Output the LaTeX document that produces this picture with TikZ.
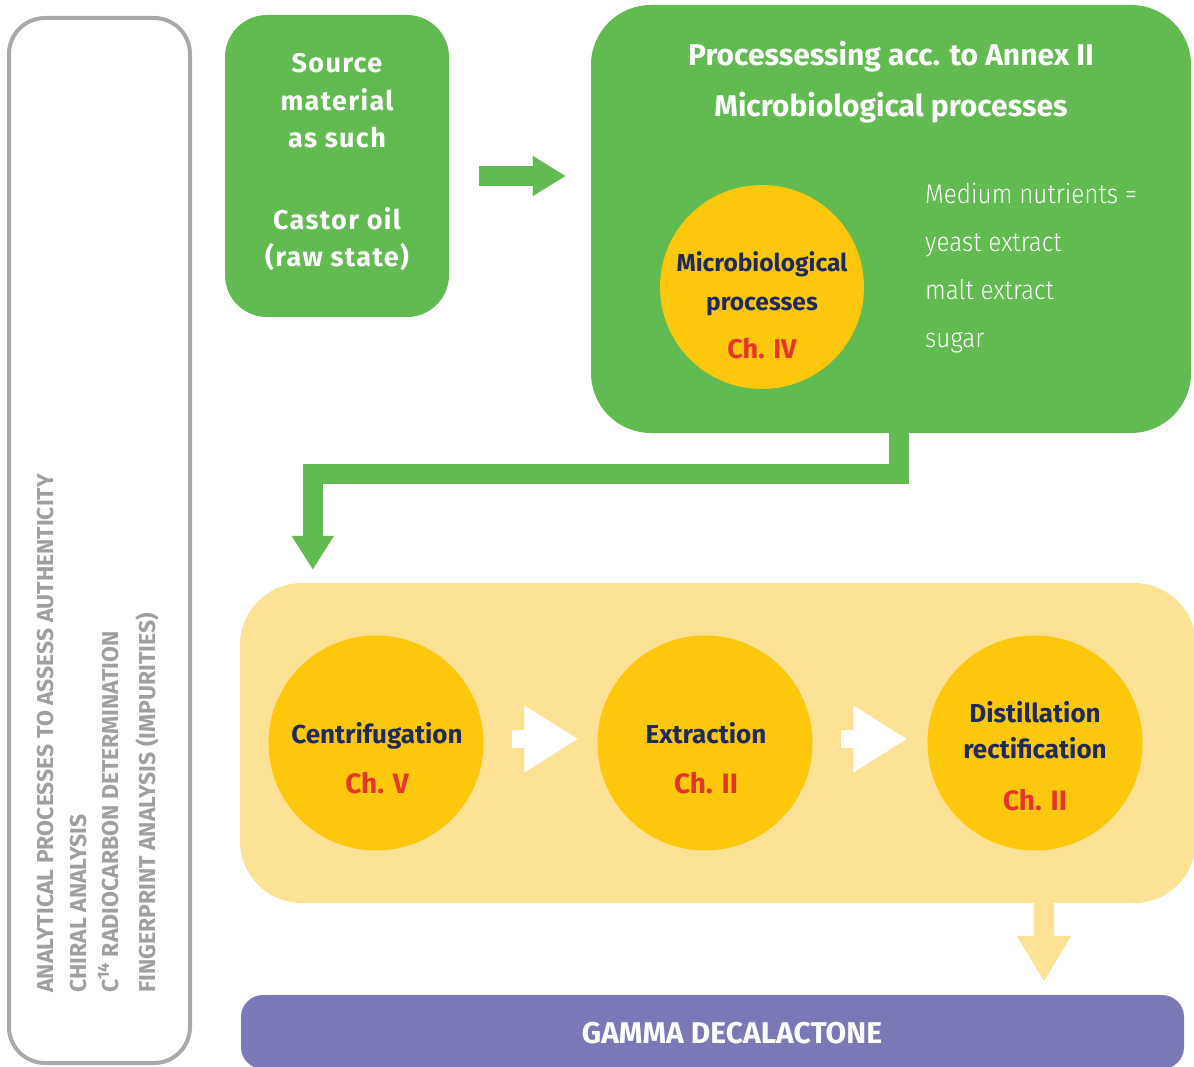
\documentclass[tikz,border=0pt]{standalone}
\usepackage{fontspec}
\setmainfont{Fira Sans}
\newfontfamily\dinfont{Fira Sans}
\newfontfamily\dinwide[LetterSpace=5]{Fira Sans}
\newfontfamily\dinlight[FakeStretch=0.9,UprightFont=* Light]{Fira Sans}
\usetikzlibrary{arrows.meta}

\definecolor{leafgreen}{HTML}{62BB50}
\definecolor{sungold}{HTML}{FDC70C}
\definecolor{palegold}{HTML}{FDE194}
\definecolor{lavender}{HTML}{7A78B6}
\definecolor{inkblue}{HTML}{1F2A5C}
\definecolor{chred}{HTML}{E5342A}
\definecolor{framegray}{HTML}{A7A9AC}
\definecolor{labelgray}{HTML}{9D9FA2}

\tikzset{
  framebox/.style={draw=framegray, line width=4pt, rounded corners=36pt, inner sep=0pt},
  greenbox/.style={fill=leafgreen, inner sep=0pt},
  palebox/.style={fill=palegold, rounded corners=62pt, inner sep=0pt},
  purplebar/.style={fill=lavender, rounded corners=22pt, inner sep=0pt},
  goldcircle/.style={circle, fill=sungold, inner sep=0pt},
  sidetext/.style={rotate=90, anchor=base west, inner sep=0pt, text=labelgray,
    font=\dinfont\bfseries\fontsize{23pt}{23pt}\selectfont},
  sourcetext/.style={anchor=base, inner sep=0pt, text=white,
    font=\dinwide\bfseries\fontsize{27pt}{27pt}\selectfont},
  whitebold/.style={anchor=base, inner sep=0pt, text=white,
    font=\dinfont\bfseries\fontsize{#1}{#1}\selectfont},
  whitelight/.style={anchor=base west, inner sep=0pt, text=white,
    font=\dinlight\fontsize{27pt}{27pt}\selectfont},
  inkbold/.style={anchor=base, inner sep=0pt, text=inkblue,
    font=\dinfont\bfseries\fontsize{#1}{#1}\selectfont},
  chbold/.style={anchor=base, inner sep=0pt, text=chred,
    font=\dinfont\bfseries\fontsize{#1}{#1}\selectfont},
  greenarrow/.style={draw=leafgreen, line width=20pt,
    -{Triangle[length=33pt,width=38pt]}},
  greenpipe/.style={draw=leafgreen, line width=20pt,
    -{Triangle[length=34pt,width=40pt]}},
  whitearrow/.style={draw=white, line width=18pt,
    -{Triangle[length=54pt,width=63pt]}},
  palearrow/.style={draw=palegold, line width=20pt,
    -{Triangle[length=46pt,width=51pt]}}
}

\begin{document}
\begin{tikzpicture}[x=1pt, y=-1pt]
  \useasboundingbox (0,0) rectangle (1194,1067);

  \node (authbox) [framebox, minimum width=181pt, minimum height=1045pt] at (99.5,540.5) {};
  \node (auth) [sidetext] at (53,993) {ANALYTICAL PROCESSES TO ASSESS AUTHENTICITY};
  \node (chiral) [sidetext] at (86,993) {CHIRAL ANALYSIS};
  \node (carbon) [sidetext] at (118,993) {C\textsuperscript{14} RADIOCARBON DETERMINATION};
  \node (print) [sidetext] at (155,993) {FINGERPRINT ANALYSIS (IMPURITIES)};

  \node (source) [greenbox, rounded corners=42pt, minimum width=224pt, minimum height=302pt] at (337,166) {};
  \node (src1) [sourcetext] at (337,73) {Source};
  \node (src2) [sourcetext] at (337,111) {material};
  \node (src3) [sourcetext] at (337,148) {as such};
  \node (src4) [sourcetext] at (337,230) {Castor oil};
  \node (src5) [sourcetext] at (337,267) {(raw state)};

  \node (process) [greenbox, rounded corners=60pt, minimum width=600pt, minimum height=428pt] at (891,219) {};
  \node (title1) [whitebold=30pt] at (891,66) {Processessing acc. to Annex II};
  \node (title2) [whitebold=30pt] at (891,117) {Microbiological processes};
  \node (micro) [goldcircle, minimum size=204pt] at (762,287) {};
  \node (micro1) [inkbold=24.5pt] at (762,272) {Microbiological};
  \node (micro2) [inkbold=24.5pt] at (762,311) {processes};
  \node (micro3) [chbold=27pt] at (762,358) {Ch. IV};
  \node (med1) [whitelight] at (925,204) {Medium nutrients =};
  \node (med2) [whitelight] at (925,252) {yeast extract};
  \node (med3) [whitelight] at (925,300) {malt extract};
  \node (med4) [whitelight] at (925,348) {sugar};

  \node (pale) [palebox, minimum width=956pt, minimum height=320pt] at (718,743) {};
  \node (centri) [goldcircle, minimum size=215pt] at (376,743) {};
  \node (extra) [goldcircle, minimum size=215pt] at (705,743) {};
  \node (disti) [goldcircle, minimum size=215pt] at (1035,743) {};
  \node (centri1) [inkbold=26pt] at (377,743) {Centrifugation};
  \node (centri2) [chbold=28pt] at (377,793) {Ch. V};
  \node (extra1) [inkbold=26pt] at (706,743) {Extraction};
  \node (extra2) [chbold=28pt] at (706,793) {Ch. II};
  \node (disti1) [inkbold=26pt] at (1035,722) {Distillation};
  \node (disti2) [inkbold=26pt] at (1035,758) {rectification};
  \node (disti3) [chbold=28pt] at (1035,810) {Ch. II};

  \node (gamma) [purplebar, minimum width=943pt, minimum height=74pt] at (712.5,1032) {};
  \node (gamma1) [whitebold=30pt] at (732,1043) {GAMMA DECALACTONE};

  \draw[greenarrow] ([shift={(30,10)}]source.east) -- ([shift={(-25,-43)}]process.west);
  \draw[greenpipe] ([xshift=8pt]process.south) -- ++(0,41) -| ([shift={(73,-13)}]pale.north west);
  \draw[whitearrow] ([shift={(28,-4)}]centri.east) -- ([shift={(-19,-4)}]extra.west);
  \draw[whitearrow] ([shift={(28,-4)}]extra.east) -- ([shift={(-20,-4)}]disti.west);
  \draw[palearrow] ([xshift=326pt]pale.south) -- ([shift={(331.5,-13)}]gamma.north);
\end{tikzpicture}
\end{document}
